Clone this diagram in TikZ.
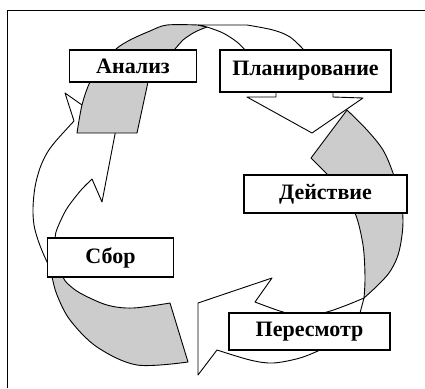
\documentclass[tikz,border=0pt]{standalone}
\usepackage{fontspec}
\setmainfont{Liberation Serif}
\definecolor{ribbon}{RGB}{204,204,204}
\newcommand{\stagefont}{\fontsize{22}{26}\selectfont\bfseries}
\tikzset{
  band/.style={draw=black, line width=0.9pt, fill=white, line join=round},
  backband/.style={draw=black, line width=0.9pt, fill=ribbon, line join=round},
  stage/.style={draw=black, line width=1.2pt, fill=white, inner sep=0pt, font=\stagefont},
  curve/.style={smooth, tension=0.55}
}
\begin{document}
\begin{tikzpicture}[x=1pt, y=-1pt]
\useasboundingbox (0,0) rectangle (425,388);
\fill[white] (0,0) rectangle (425,388);
% frame
\draw[line width=1.5pt] (7.5,388) -- (7.5,10.5) -- (425,10.5);

% right arrow: back side from the tail, then the front side with its head
\path[backband] (347,110) -- plot[curve] coordinates {(347,110) (367,130) (383,150) (393,173) (401,200) (403,222) (401,242) (397,258) (389,273) (377,286) (364,298)}
  -- plot[curve] coordinates {(364,298) (365,277) (363,245) (355,213) (340,190) (327,174)}
  -- (311,158) -- cycle;
\path[band] (364,298) -- (360,313) -- (340,340) -- (320,350)
  -- plot[curve] coordinates {(320,350) (300,358) (273,363) (250,360) (217,350)}
  -- (198,375) -- (198,303) -- (272,278) -- (255,302)
  -- plot[curve] coordinates {(255,302) (283,312) (305,316) (327,312) (347,305) (364,298)}
  -- cycle;

% lower left arrow
\path[backband] (170,303) -- (188,362)
  -- plot[curve] coordinates {(188,362) (137,365) (97,347) (70,320) (57,295) (52,277) (50,270)}
  -- (60,270)
  -- plot[curve] coordinates {(63,277) (67,283) (80,293) (107,305) (133,308) (170,303)}
  -- cycle;
\path[band] (50,268)
  -- plot[curve] coordinates {(48,264) (43,253) (38,240) (34,225) (33,208) (35,187) (40,168) (47,153) (55,142) (63,133) (74,121)}
  -- (65,93) -- (116,129) -- (102,202) -- (92,179)
  -- plot[curve] coordinates {(92,179) (82,189) (73,200) (66,210) (60,222) (56,232) (55,240)}
  -- (56,252) -- cycle;

% top arrow
\path[backband] (77,133) -- (137,133) -- (148,82)
  -- plot[curve] coordinates {(148,82) (161,64) (175,49) (183,40) (195,32) (207,27)}
  -- (198,25)
  -- plot[curve] coordinates {(198,25) (167,25) (150,31) (130,40) (116,49) (102,64) (90,82) (82,105) (77,133)}
  -- cycle;
\path[band] (198,25) -- (247,25)
  -- plot[curve] coordinates {(247,25) (273,30) (290,37) (304,50)}
  -- (333,92) -- (333,97) -- (363,98) -- (312,133) -- (247,97) -- (276,97) -- (276,92) -- (245,50)
  -- plot[curve] coordinates {(245,50) (237,42) (223,33) (207,27)}
  -- cycle;

% stage boxes
\node[stage, minimum width=127pt, minimum height=32pt] (analiz) at (133,66) {Анализ};
\node[stage, minimum width=171pt, minimum height=42pt] (plan) at (305.5,71) {Планирование};
\node[stage, minimum width=163pt, minimum height=38pt] (deistvie) at (325.5,194) {Действие};
\node[stage, minimum width=126pt, minimum height=39pt] (sbor) at (110.5,257.5) {Сбор};
\node[stage, minimum width=161pt, minimum height=37pt] (peresmotr) at (309.5,331.5) {Пересмотр};
\end{tikzpicture}
\end{document}
